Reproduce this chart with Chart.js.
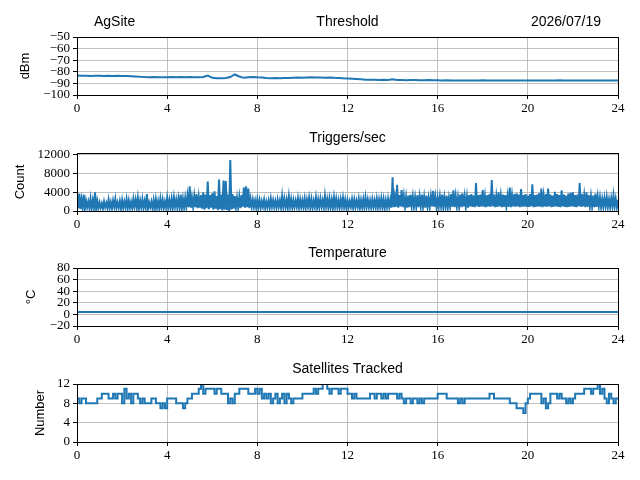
<!DOCTYPE html>
<html>
<head>
<meta charset="utf-8">
<script src="https://cdn.jsdelivr.net/npm/chart.js"></script>
<style>
  body { margin: 0; background: #fff; width: 640px; height: 480px; position: relative; overflow: hidden; }
  canvas { position: absolute; left: 0; }
</style>
</head>
<body>
<canvas id="p0" width="640" height="120" style="top:0px"></canvas>
<canvas id="p1" width="640" height="120" style="top:116px"></canvas>
<canvas id="p2" width="640" height="120" style="top:231px"></canvas>
<canvas id="p3" width="640" height="120" style="top:347px"></canvas>
<script>
// ---- data ----
const siteName = 'AgSite'
const dateLabel = '2026/07/19'
const hourTicks = [0, 4, 8, 12, 16, 20, 24]
const thresholdTicks = [-100, -90, -80, -70, -60, -50]
const countTicks = [0, 4000, 8000, 12000]
const tempTicks = [-20, 0, 20, 40, 60, 80]
const satTicks = [0, 4, 8, 12]

// threshold (dBm), one reading every 0.2 h
const thresholdStep = 0.2
const threshold = [
  -83.2, -83.5, -83.3, -83.6, -83.4, -83.5, -83.7, -83.5, -83.6, -83.4, -83.7, -83.6, -83.8,
  -84.0, -84.3, -84.5, -84.6, -84.4, -84.7, -84.6, -84.8, -84.5, -84.7, -84.4, -84.6, -84.5, -84.7, -84.6, -84.4,
  -83.2, -85.2, -85.5, -85.6, -85.3, -84.5, -82.3, -84.0, -85.2, -84.8, -84.5, -84.8,
  -85.0, -85.3, -85.5, -85.4, -85.6, -85.3, -85.4, -85.2, -85.0, -85.1, -84.9, -84.8, -85.0, -84.9, -85.1, -85.0, -85.2, -85.3, -85.6, -85.8,
  -86.0, -86.2, -86.5, -86.8, -86.9, -86.8, -87.0, -86.9, -87.1, -86.4, -87.0, -87.1, -87.2, -87.0, -87.1, -87.3, -87.2, -87.1, -87.3, -87.2,
  -87.4, -87.3, -87.5, -87.4, -87.6, -87.5, -87.4, -87.6, -87.5, -87.3, -87.5, -87.6, -87.4, -87.5, -87.6, -87.5, -87.4, -87.5, -87.6, -87.5,
  -87.5, -87.6, -87.4, -87.5, -87.6, -87.5, -87.3, -87.5, -87.6, -87.4, -87.5, -87.6, -87.5, -87.4, -87.6, -87.5, -87.6, -87.5, -87.4, -87.6
]

// triggers/sec: peak every 0.1 h, and the dip half way between peaks
const triggerStep = 0.1
const triggerPeaks = [
  2800, 3700, 2500, 3500, 2200, 2000, 2600, 2300, 4000, 2100,
  1800, 1600, 2000, 1700, 2400, 1900, 2200, 2600, 1800, 2100,
  2300, 2000, 2500, 2200, 1900, 2600, 2400, 2800, 2200, 2500,
  2100, 3600, 1800, 2000, 2300, 2500, 2100, 2600, 2400, 2000,
  2800, 2300, 2600, 2900, 2400, 2700, 3500, 2600, 2800, 3200,
  5300, 2800, 3200, 3600, 3000, 3400, 4000, 3500, 6300, 3400,
  3800, 4200, 3200, 6700, 3500, 6500, 6400, 3500, 10900, 3600,
  3200, 2800, 3000, 3400, 5000, 5300, 4800, 2600, 2400, 2200,
  2500, 2300, 2100, 2400, 2000, 2200, 2600, 2300, 2100, 2400,
  2200, 3200, 2600, 2400, 3100, 2500, 2300, 2200, 2700, 2400,
  2300, 2600, 2400, 2800, 2500, 2200, 2900, 2400, 2600, 2300,
  3200, 2500, 2700, 2400, 2900, 2600, 2300, 2500, 2800, 2400,
  2300, 2100, 2500, 2400, 2200, 2600, 2300, 2500, 2900, 2400,
  2200, 2500, 2300, 2600, 2400, 2700, 2500, 2300, 2600, 2400,
  7200, 3000, 5600, 3400, 4500, 3200, 3000, 3300, 3500, 3100,
  2900, 3400, 3100, 3500, 3000, 3300, 2800, 3100, 4300, 3000,
  2800, 3100, 3500, 2900, 3300, 2800, 3600, 4400, 3200, 3000,
  3500, 3800, 3200, 3100, 3400, 3600, 3300, 6000, 3400, 3500,
  4500, 3200, 3400, 3600, 6600, 3500, 3200, 4000, 3300, 3500,
  3400, 3200, 5000, 3300, 3600, 3800, 3500, 4700, 3400, 3600,
  3300, 3600, 5700, 3400, 3500, 3800, 4800, 3300, 3600, 4800,
  3500, 3300, 4100, 3600, 3400, 4400, 3500, 3300, 3700, 3900,
  4000, 3400, 3500, 6000, 3600, 3300, 4000, 3400, 3200, 3300,
  3700, 3100, 2900, 2600, 2800, 3000, 2500, 2700, 3300, 2600,
  2400
]
const triggerDips = [
  600, 400, 700, 500, 800, 600, 500, 700, 400, 600,
  700, 500, 800, 600, 700, 500, 900, 600, 700, 500,
  600, 800, 500, 700, 600, 900, 700, 500, 800, 600,
  700, 500, 800, 600, 400, 700, 500, 800, 600, 700,
  800, 600, 700, 900, 700, 800, 600, 700, 900, 800,
  700, 900, 800, 600, 700, 500, 300, 600, 400, 700,
  300, 500, 200, 400, 100, 300, 200, 0, 300, 500,
  700, 800, 600, 900, 700, 800, 600, 900, 800, 700,
  800, 700, 900, 600, 800, 700, 900, 800, 700, 900,
  700, 900, 800, 600, 900, 700, 800, 900, 700, 800,
  800, 700, 900, 800, 600, 900, 700, 800, 900, 700,
  900, 700, 800, 600, 900, 800, 700, 900, 800, 700,
  800, 900, 700, 800, 900, 600, 800, 700, 900, 800,
  700, 900, 800, 700, 900, 800, 600, 800, 900, 700,
  800, 900, 700, 1000, 800, 900, 700, 800, 1000, 900,
  900, 800, 1000, 900, 700, 900, 800, 1000, 900, 800,
  900, 1000, 800, 900, 700, 1000, 900, 800, 1000, 900,
  800, 1000, 900, 700, 1000, 900, 800, 1000, 900, 1000,
  900, 800, 1000, 900, 1000, 800, 900, 1000, 800, 900,
  1000, 900, 800, 1000, 900, 1000, 800, 900, 1000, 900,
  900, 1000, 800, 900, 1000, 900, 800, 1000, 900, 1000,
  800, 900, 1000, 900, 800, 1000, 900, 800, 900, 1000,
  900, 800, 1000, 900, 1000, 800, 900, 1000, 900, 800,
  900, 1000, 800, 900, 1000, 900, 800, 1000, 900, 800
]

// temperature (°C), hourly
const temperature = [4, 4, 4, 4, 4, 4, 4, 4, 4, 4, 4, 4, 4, 4, 4, 4, 4, 4, 4, 4, 4, 4, 4, 4, 4]

// satellites tracked, every 0.1 h
const satStep = 0.1
const satellites = [
  9, 8, 9, 9, 8, 8, 8, 8, 8, 9,
  9, 10, 10, 10, 9, 9, 10, 9, 10, 10,
  8, 11, 9, 10, 8, 10, 10, 9, 8, 9,
  8, 8, 8, 9, 9, 8, 8, 7, 8, 7,
  9, 9, 9, 9, 8, 8, 8, 7, 8, 9,
  9, 10, 10, 10, 11, 12, 10, 11, 11, 11,
  11, 10, 11, 11, 10, 10, 10, 8, 9, 8,
  10, 10, 11, 11, 11, 11, 10, 10, 10, 11,
  10, 11, 9, 10, 9, 10, 8, 9, 10, 8,
  9, 10, 8, 10, 9, 8, 9, 9, 9, 9,
  10, 10, 10, 10, 10, 11, 10, 11, 11, 12,
  12, 11, 10, 11, 11, 11, 10, 11, 11, 11,
  10, 10, 9, 10, 9, 9, 9, 9, 9, 9,
  10, 10, 9, 10, 10, 9, 10, 9, 10, 10,
  10, 10, 9, 10, 9, 8, 9, 9, 8, 9,
  9, 8, 9, 8, 9, 9, 9, 9, 9, 9,
  10, 10, 10, 10, 9, 9, 9, 9, 9, 8,
  9, 8, 9, 9, 9, 9, 9, 9, 9, 9,
  9, 9, 9, 10, 10, 9, 9, 9, 9, 9,
  9, 9, 8, 8, 8, 7, 7, 7, 6, 8,
  9, 10, 10, 10, 10, 10, 8, 9, 7, 8,
  10, 10, 10, 9, 10, 9, 9, 8, 9, 8,
  9, 10, 10, 10, 10, 11, 11, 11, 10, 11,
  11, 12, 10, 11, 9, 8, 10, 9, 8, 9,
  9
]

// ---- build points ----
function evenly(values, step) {
  return values.map((v, i) => ({ x: i * step, y: v }))
}

let triggerPoints = []
for (let i = 0; i < triggerPeaks.length; i++) {
  triggerPoints.push({ x: i * triggerStep, y: triggerPeaks[i] })
  if (i < triggerDips.length) {
    triggerPoints.push({ x: (i + 0.5) * triggerStep, y: triggerDips[i] })
  }
}

const panels = [
  { id: 'p0', title: 'Threshold', ylabel: 'dBm', labelX: 25, min: -100, max: -50, ticks: thresholdTicks,
    points: evenly(threshold, thresholdStep), stepped: false, width: 2 },
  { id: 'p1', title: 'Triggers/sec', ylabel: 'Count', labelX: 20, min: 0, max: 12400, ticks: countTicks,
    points: triggerPoints, stepped: false, width: 2 },
  { id: 'p2', title: 'Temperature', ylabel: '\u00B0C', labelX: 31, min: -20, max: 80, ticks: tempTicks,
    points: evenly(temperature, 1), stepped: false, width: 2 },
  { id: 'p3', title: 'Satellites Tracked', ylabel: 'Number', labelX: 40, min: 0, max: 12, ticks: satTicks,
    points: evenly(satellites, satStep), stepped: true, width: 2 },
]

const sansFont = "'Liberation Sans', 'DejaVu Sans', sans-serif"
const serifFont = "'Liberation Serif', 'DejaVu Serif', serif"
Chart.defaults.font.family = serifFont
Chart.defaults.color = '#000'

function tickText(v) {
  return v < 0 ? '\u2212' + Math.abs(v) : String(v)
}

function decorPlugin(panel, first) {
  return {
    id: 'decor',
    afterDraw(chart) {
      const ctx = chart.ctx
      const a = chart.chartArea
      ctx.save()
      ctx.strokeStyle = '#000'
      ctx.lineWidth = 1
      ctx.strokeRect(Math.round(a.left) + 0.5, Math.round(a.top) + 0.5,
        Math.round(a.right - a.left), Math.round(a.bottom - a.top))

      ctx.fillStyle = '#000'
      ctx.font = '14px ' + sansFont
      ctx.textBaseline = 'middle'
      ctx.textAlign = 'center'
      ctx.fillText(panel.title, (a.left + a.right) / 2, a.top - 15)
      if (first) {
        ctx.textAlign = 'left'
        ctx.fillText(siteName, 94, a.top - 15)
        ctx.textAlign = 'right'
        ctx.fillText(dateLabel, 601, a.top - 15)
      }

      ctx.font = '13px ' + sansFont
      ctx.translate(panel.labelX, (a.top + a.bottom) / 2)
      ctx.rotate(-Math.PI / 2)
      ctx.textAlign = 'center'
      ctx.fillText(panel.ylabel, 0, 0)
      ctx.restore()
    }
  }
}

panels.forEach((panel, idx) => {
  new Chart(panel.id, {
    type: 'line',
    data: {
      datasets: [{
        data: panel.points,
        borderColor: '#1f77b4',
        borderWidth: panel.width,
        pointRadius: 0,
        stepped: panel.stepped,
        tension: 0,
        fill: false,
      }],
    },
    options: {
      responsive: false,
      animation: false,
      devicePixelRatio: 1,
      layout: { padding: { top: 37, right: 22, left: 0, bottom: 0 } },
      plugins: { legend: { display: false }, tooltip: { enabled: false } },
      scales: {
        x: {
          type: 'linear',
          min: 0,
          max: 24,
          afterBuildTicks: (scale) => { scale.ticks = hourTicks.map(v => ({ value: v })) },
          afterFit: (scale) => { scale.height = 25 },
          ticks: { font: { size: 13 }, padding: 2, maxRotation: 0, autoSkip: false, callback: tickText },
          grid: { color: '#b0b0b0', lineWidth: 0.8, tickLength: 4, tickColor: '#000', tickWidth: 1 },
          border: { color: '#000', width: 1 },
        },
        y: {
          min: panel.min,
          max: panel.max,
          afterBuildTicks: (scale) => { scale.ticks = panel.ticks.map(v => ({ value: v })) },
          afterFit: (scale) => { scale.width = 77 },
          ticks: { font: { size: 13 }, padding: 3, autoSkip: false, callback: tickText },
          grid: { color: '#b0b0b0', lineWidth: 0.8, tickLength: 4, tickColor: '#000', tickWidth: 1 },
          border: { color: '#000', width: 1 },
        },
      },
    },
    plugins: [decorPlugin(panel, idx === 0)],
  })
})
</script>
</body>
</html>
